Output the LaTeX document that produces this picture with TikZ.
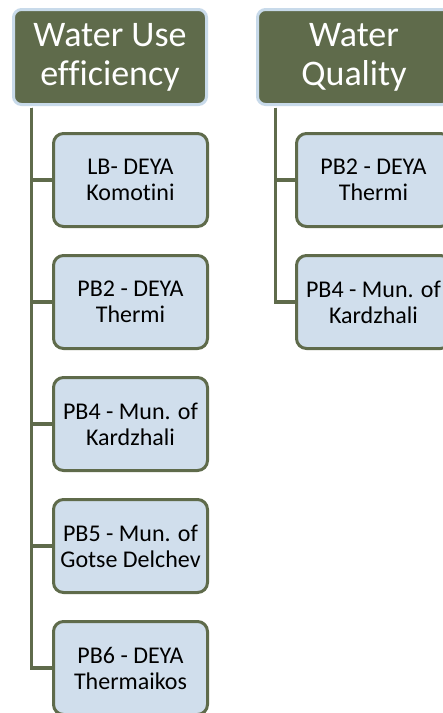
\documentclass[tikz,border=0pt]{standalone}
\usepackage{fontspec}
\setmainfont[Ligatures=NoCommon]{Carlito}
\definecolor{olive}{RGB}{95,107,75}
\definecolor{hdrborder}{RGB}{200,218,234}
\definecolor{childfill}{RGB}{208,222,236}
\tikzset{
  header/.style={rectangle, rounded corners=8pt, draw=hdrborder, line width=3pt,
    fill=olive, text=white, minimum width=193pt, minimum height=95pt,
    inner sep=0pt, align=center, font=\fontsize{36}{39}\selectfont},
  child/.style={rectangle, rounded corners=10pt, draw=olive, line width=3pt,
    fill=childfill, text=black, minimum width=154pt, minimum height=93pt,
    inner sep=0pt, align=center, font=\fontsize{24}{26}\selectfont},
  conn/.style={draw=olive, line width=3.2pt}
}
\begin{document}
\begin{tikzpicture}[x=1pt,y=-1pt]
\useasboundingbox (0,0) rectangle (443,713);
\clip (0,0) rectangle (443,713);
% column 1
\node[header] (h1) at (110,57) {Water Use\\efficiency};
\node[child] (a1) at (130.5,180) {LB- DEYA\\Komotini};
\node[child] (a2) at (130.5,302) {PB2 - DEYA\\Thermi};
\node[child] (a3) at (130.5,424) {PB4 - Mun. of\\Kardzhali};
\node[child] (a4) at (130.5,546) {PB5 - Mun. of\\Gotse Delchev};
\node[child] (a5) at (130.5,668) {PB6 - DEYA\\Thermaikos};
% column 2
\node[header] (h2) at (354,57) {Water\\Quality};
\node[child] (b1) at (373.5,180) {PB2 - DEYA\\Thermi};
\node[child] (b2) at (373.5,302) {PB4 - Mun. of\\Kardzhali};
% connectors
\foreach \c in {a1,a2,a3,a4,a5}
  \draw[conn] ([xshift=19.5pt,yshift=-1.5pt]h1.south west) |- (\c.west);
\foreach \c in {b1,b2}
  \draw[conn] ([xshift=19.5pt,yshift=-1.5pt]h2.south west) |- (\c.west);
\end{tikzpicture}
\end{document}
